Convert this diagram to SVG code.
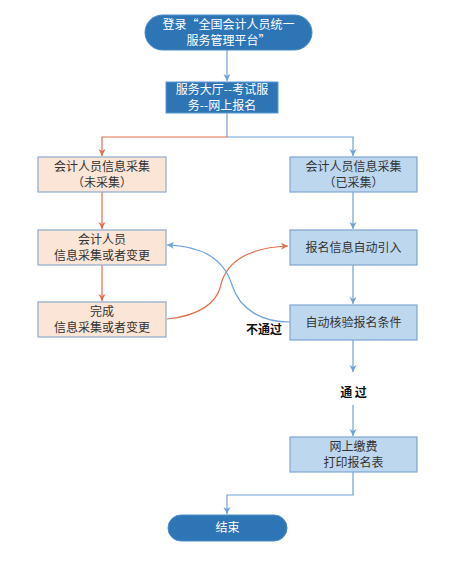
<svg xmlns="http://www.w3.org/2000/svg" width="472" height="565" viewBox="0 0 472 565">
<defs>
<style>
.t{font-family:"Noto Sans CJK SC","Liberation Sans",sans-serif;font-size:12px;text-anchor:middle;}
.w{fill:#ffffff;}
.d{fill:#333333;}
.b{font-weight:bold;fill:#111111;}
.term{fill:#2e75b6;stroke:#4a8bc8;stroke-width:1;}
.dark{fill:#2e75b6;stroke:#5b9bd5;stroke-width:1;}
.peach{fill:#fbe5d6;stroke:#8eaacc;stroke-width:1.2;}
.blue{fill:#bdd7ee;stroke:#7ea6d2;stroke-width:1.2;}
.lb{fill:none;stroke:#6fa3d8;stroke-width:1.2;}
.lr{fill:none;stroke:#e2704f;stroke-width:1.2;}
</style>
<marker id="ab" markerWidth="8" markerHeight="8" refX="7" refY="4" orient="auto" markerUnits="userSpaceOnUse">
<path d="M0,0.5 L7,4 L0,7.5 L2,4 Z" fill="#6fa3d8"/>
</marker>
<marker id="ar" markerWidth="8" markerHeight="8" refX="7" refY="4" orient="auto" markerUnits="userSpaceOnUse">
<path d="M0,0.5 L7,4 L0,7.5 L2,4 Z" fill="#e2704f"/>
</marker>
</defs>
<rect width="472" height="565" fill="#ffffff"/>
<g id="connectors">
<path class="lb" d="M227,50 V81" marker-end="url(#ab)"/>
<path class="lb" d="M227,113 V137 H353 V156" marker-end="url(#ab)"/>
<path class="lr" d="M227,137 H102 V156" marker-end="url(#ar)"/>
<path class="lr" d="M102,192 V229" marker-end="url(#ar)"/>
<path class="lr" d="M102,265 V301" marker-end="url(#ar)"/>
<path class="lb" d="M353,192 V229" marker-end="url(#ab)"/>
<path class="lb" d="M353,265 V304" marker-end="url(#ab)"/>
<path class="lb" d="M353,340 V372" marker-end="url(#ab)"/>
<path class="lb" d="M353,405 V436" marker-end="url(#ab)"/>
<path class="lb" d="M353,472 V495 H227 V514" marker-end="url(#ab)"/>
<path class="lr" d="M167,319 C200,316 216,302 220,288 C224,268 240,248 288,246" marker-end="url(#ar)"/>
<path class="lb" d="M290,322 C262,322 240,310 232,285 C225,262 205,246 167,245" marker-end="url(#ab)"/>
</g>
<g id="start">
<rect class="term" x="145" y="15" width="167" height="35" rx="17.5"/>
<text class="t w" x="228.5" y="29">登录“全国会计人员统一</text>
<text class="t w" x="228.5" y="45">服务管理平台”</text>
</g>
<g id="hall">
<rect class="dark" x="166" y="82" width="112" height="31"/>
<text class="t w" x="222" y="94">服务大厅--考试服</text>
<text class="t w" x="222" y="110">务--网上报名</text>
</g>
<g id="notCollected">
<rect class="peach" x="38" y="157" width="128" height="35"/>
<text class="t d" x="102" y="170.5">会计人员信息采集</text>
<text class="t d" x="102" y="186.5">（未采集）</text>
</g>
<g id="collectChange">
<rect class="peach" x="38" y="230" width="128" height="35"/>
<text class="t d" x="102" y="243.5">会计人员</text>
<text class="t d" x="102" y="259.5">信息采集或者变更</text>
</g>
<g id="done">
<rect class="peach" x="38" y="302" width="128" height="35"/>
<text class="t d" x="102" y="315.5">完成</text>
<text class="t d" x="102" y="331.5">信息采集或者变更</text>
</g>
<g id="collected">
<rect class="blue" x="290" y="157" width="127" height="35"/>
<text class="t d" x="353.5" y="170.5">会计人员信息采集</text>
<text class="t d" x="353.5" y="186.5">（已采集）</text>
</g>
<g id="autoImport">
<rect class="blue" x="290" y="230" width="127" height="35"/>
<text class="t d" x="353.5" y="252">报名信息自动引入</text>
</g>
<g id="autoCheck">
<rect class="blue" x="290" y="305" width="127" height="35"/>
<text class="t d" x="353.5" y="327">自动核验报名条件</text>
</g>
<g id="fail">
<text class="t b" x="264" y="334">不通过</text>
</g>
<g id="pass">
<text class="t b" x="353.5" y="397">通  过</text>
</g>
<g id="pay">
<rect class="blue" x="290" y="437" width="127" height="35"/>
<text class="t d" x="353.5" y="450.5">网上缴费</text>
<text class="t d" x="353.5" y="466.5">打印报名表</text>
</g>
<g id="end">
<rect class="term" x="168" y="515" width="119" height="26" rx="13"/>
<text class="t w" x="227.5" y="532">结束</text>
</g>
</svg>
